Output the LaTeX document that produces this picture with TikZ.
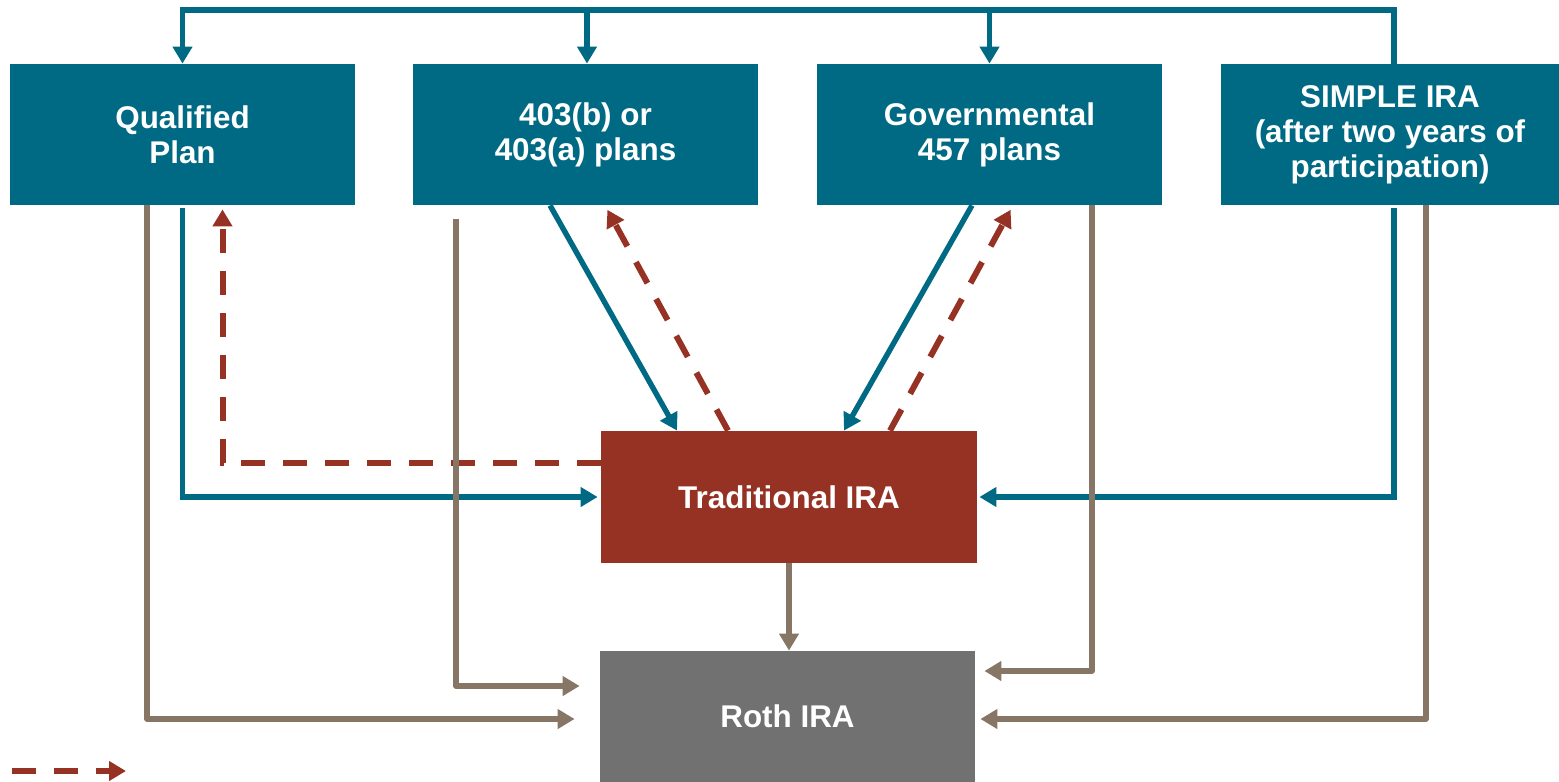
\documentclass[tikz,border=0pt]{standalone}
\usepackage{fontspec}
\setmainfont{Liberation Sans}
\usetikzlibrary{arrows.meta}
\definecolor{tealc}{RGB}{0,106,132}
\definecolor{redc}{RGB}{150,50,35}
\definecolor{grayc}{RGB}{113,113,114}
\definecolor{taupec}{RGB}{135,118,102}
\tikzset{
  box/.style={rectangle, draw=none, inner sep=0pt, align=center, text=white,
    font=\bfseries\fontsize{15.7}{17.5}\selectfont},
  tbox/.style={box, fill=tealc, minimum width=172.5pt, minimum height=70.5pt},
  tip/.style={-{Triangle[length=8.5pt,width=9.5pt]}},
  tealline/.style={draw=tealc, line width=2.7pt, line join=miter},
  redline/.style={draw=redc, line width=3pt, dash pattern=on 12pt off 9pt},
  taupeline/.style={draw=taupec, line width=2.6pt, line join=round}
}
\begin{document}
\begin{tikzpicture}[x=0.5pt,y=-0.5pt]
\useasboundingbox (0,0) rectangle (1559,782);
% boxes
\node[tbox] (qp) at (182.5,134.5) {Qualified\\Plan};
\node[tbox] (b403) at (585.5,134.5) {403(b) or\\403(a) plans};
\node[tbox] (gov) at (989.5,134.5) {Governmental\\457 plans};
\node[tbox, minimum width=169pt] (simple) at (1390,134.5) {SIMPLE IRA\\(after two years of\\participation)};
\node[box, fill=redc, minimum width=188pt, minimum height=66pt] (trad) at (789,497) {Traditional IRA};
\node[box, fill=grayc, minimum width=187.5pt, minimum height=65.5pt] (roth) at (787.5,716.5) {Roth IRA};
\coordinate (bus) at (0,10);
% teal connectors
\draw[tealline, tip] ([xshift=2pt]simple.north) |- (bus -| qp.north) -- (qp.north);
\draw[tealline, tip] ([xshift=0.75pt]b403.north |- bus) -- ([xshift=0.75pt]b403.north);
\draw[tealline, tip] (gov.north |- bus) -- (gov.north);
\draw[tealline, tip, shorten >=1.5pt] ([yshift=-1.5pt]qp.south) |- (trad.west);
\draw[tealline, tip, shorten >=1pt] ([xshift=2pt,yshift=-1.5pt]simple.south) |- (trad.east);
\draw[tealline, tip] ([xshift=-17.75pt]b403.south) -- ([xshift=-56pt]trad.north);
\draw[tealline, tip] ([xshift=-8.75pt]gov.south) -- ([xshift=27.5pt]trad.north);
% red dashed connectors
\draw[redline, tip] ([yshift=17pt]trad.west) -| ([xshift=20pt,yshift=-2pt]qp.south);
\draw[redline, tip, shorten >=2.5pt] ([xshift=-30.5pt]trad.north) -- ([xshift=9.75pt]b403.south);
\draw[redline, tip, shorten >=2.5pt] ([xshift=50.5pt]trad.north) -- ([xshift=11.75pt]gov.south);
% taupe connectors
\draw[taupeline, tip, shorten >=12.5pt] ([xshift=-17.75pt]qp.south) |- ([yshift=-1.25pt]roth.west);
\draw[taupeline, tip, shorten >=10pt] ([xshift=-64.75pt,yshift=-7pt]b403.south) |- ([yshift=15.25pt]roth.west);
\draw[taupeline, tip] (trad.south) -- (trad.south |- roth.north);
\draw[taupeline, tip, shorten >=4.5pt] ([xshift=51.25pt]gov.south) |- ([yshift=22.75pt]roth.east);
\draw[taupeline, tip, shorten >=2.5pt] ([xshift=18pt]simple.south) |- ([yshift=-1.25pt]roth.east);
% legend
\coordinate (l1) at (12,771);
\coordinate (l2) at (126,771);
\draw[redline, tip] (l1) -- (l2);
\end{tikzpicture}
\end{document}
